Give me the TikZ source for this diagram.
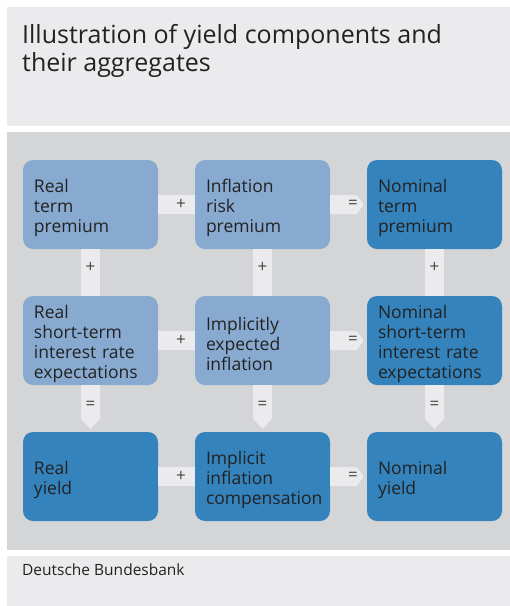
\documentclass[tikz,border=0pt]{standalone}
\usepackage{fontspec}
\setmainfont{Open Sans}
\usetikzlibrary{calc}
\definecolor{panel}{HTML}{EBEBED}
\definecolor{diag}{HTML}{D4D5D7}
\definecolor{lightb}{HTML}{88AAD0}
\definecolor{darkb}{HTML}{3483BD}
\definecolor{txt}{HTML}{222222}
\definecolor{sym}{HTML}{444444}
\tikzset{
  box/.style={rounded corners=10pt, minimum width=135pt, minimum height=89pt, inner sep=0pt},
  lbox/.style={box, fill=lightb},
  dbox/.style={box, fill=darkb},
  btext/.style={text width=113pt, inner sep=0pt, align=left, text=txt,
    font=\fontsize{17.5}{20}\selectfont},
  conn/.style={fill=panel},
  symb/.style={text=sym, font=\fontsize{17}{17}\selectfont, inner sep=0pt},
}
\newcommand{\bx}[5]{% style, name, x, y, text
  \node[#1] (#2) at (#3,#4) {};
  \node[btext] (#2t) at ([yshift=-3pt]#2.center) {#5};
}
\begin{document}
\begin{tikzpicture}[x=1pt,y=-1pt]
\useasboundingbox (0,0) rectangle (510,606);
\fill[white] (0,0) rectangle (510,606);
\fill[panel] (7,7) rectangle (510,125.5);
\fill[diag] (7,131.5) rectangle (510,549.5);
\fill[panel] (7,556) rectangle (510,606);
\node[anchor=base west, inner sep=0pt, text=txt, align=left,
  font=\fontsize{25}{28.5}\selectfont] (title) at (22,71.7)
  {Illustration of yield components and\\their aggregates};
\node[anchor=base west, inner sep=0pt, text=txt,
  font=\fontsize{15.5}{17}\selectfont] (foot) at (22,575) {Deutsche Bundesbank};
% boxes
\bx{lbox}{a1}{90.5}{204.5}{Real\\term\\premium}
\bx{lbox}{b1}{262.5}{204.5}{Inflation\\risk\\premium}
\bx{dbox}{c1}{434.5}{204.5}{Nominal\\term\\premium}
\bx{lbox}{a2}{90.5}{340.5}{Real\\short-term\\interest rate\\expectations}
\bx{lbox}{b2}{262.5}{340.5}{Implicitly\\expected\\inflation}
\bx{dbox}{c2}{434.5}{340.5}{Nominal\\short-term\\interest rate\\expectations}
\bx{dbox}{a3}{90.5}{476.5}{Real\\yield}
\bx{dbox}{b3}{262.5}{476.5}{Implicit\\inflation\\compensation}
\bx{dbox}{c3}{434.5}{476.5}{Nominal\\yield}
% horizontal plus connectors
\foreach \p/\q in {a1/b1,a2/b2,a3/b3}{
  \fill[conn] ($(\p.east)+(0,-9.5)$) rectangle ($(\q.west)+(0,9.5)$);
  \node[symb] at ($(\p.east)!0.62!(\q.west)$) {+};
}
% horizontal equals connectors
\foreach \p/\q in {b1/c1,b2/c2,b3/c3}{
  \fill[conn] ($(\p.east)+(0,-9.5)$) -- ($(\q.west)+(-10,-9.5)$) -- ($(\q.west)+(-3,0)$)
    -- ($(\q.west)+(-10,9.5)$) -- ($(\p.east)+(0,9.5)$) -- cycle;
  \node[symb] at ($(\p.east)!0.62!(\q.west)$) {=};
}
% vertical plus connectors
\foreach \p/\q in {a1/a2,b1/b2,c1/c2}{
  \fill[conn] ($(\p.south)+(-9.5,0)$) rectangle ($(\q.north)+(9.5,0)$);
  \node[symb] at ($(\p.south)!0.4!(\q.north)$) {+};
}
% vertical equals connectors
\foreach \p/\q in {a2/a3,b2/b3,c2/c3}{
  \fill[conn] ($(\p.south)+(-9.5,0)$) -- ($(\q.north)+(-9.5,-13)$) -- ($(\q.north)+(0,-3)$)
    -- ($(\q.north)+(9.5,-13)$) -- ($(\p.south)+(9.5,0)$) -- cycle;
  \node[symb] at ($(\p.south)!0.43!(\q.north)$) {=};
}
\end{tikzpicture}
\end{document}
